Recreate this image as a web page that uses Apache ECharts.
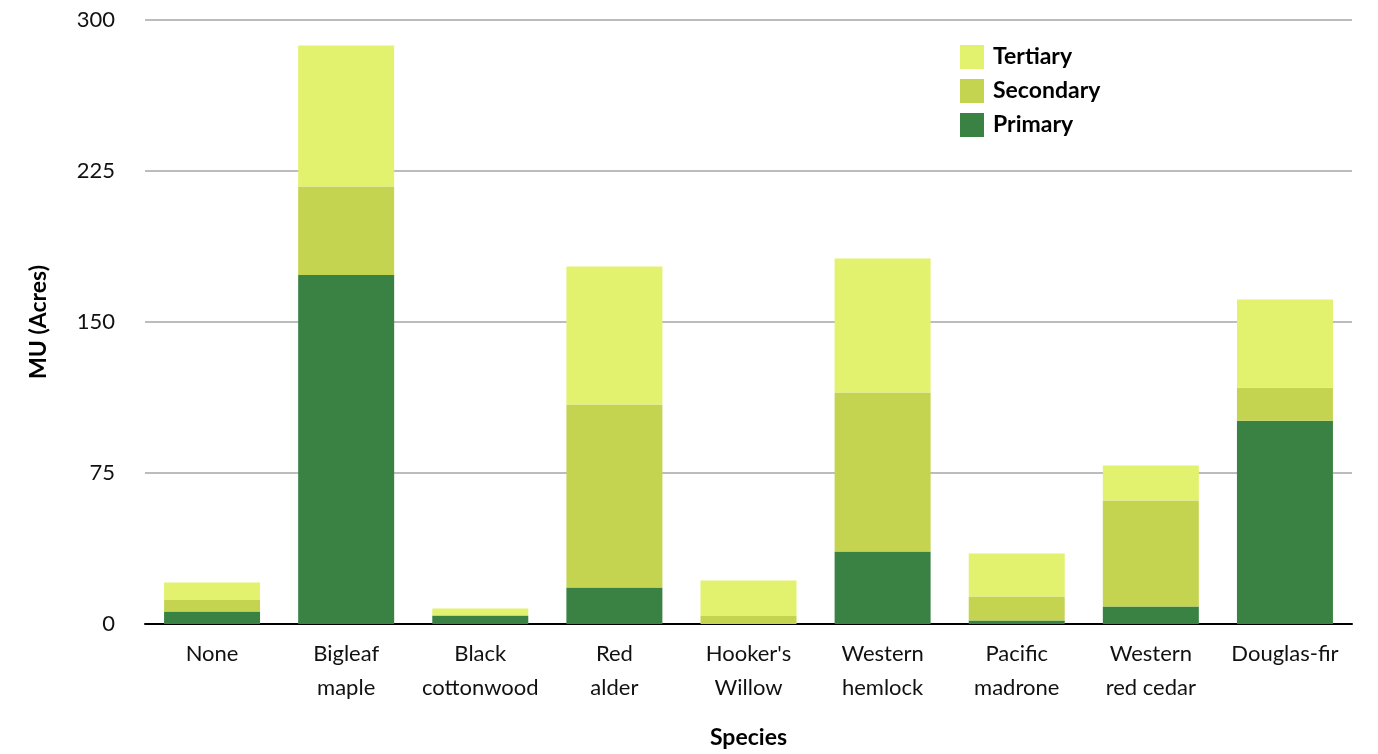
<!DOCTYPE html>
<html>
<head>
<meta charset="utf-8">
<script src="https://cdn.jsdelivr.net/npm/echarts@6/dist/echarts.min.js"></script>
<style>html,body{margin:0;padding:0;background:#fff}#c{width:1378px;height:754px}</style>
</head>
<body>
<div id="c"></div>
<script>
const categories = ['None', 'Bigleaf\nmaple', 'Black\ncottonwood', 'Red\nalder', "Hooker's\nWillow", 'Western\nhemlock', 'Pacific\nmadrone', 'Western\nred cedar', 'Douglas-fir'];
const primary   = [6.2, 173.3, 4.2, 18.1, 0, 36.0, 1.7, 8.7, 100.9];
const secondary = [6.0, 44.0, 0, 90.9, 4.2, 79.0, 12.0, 52.6, 16.4];
const tertiary  = [8.4, 70.0, 3.5, 68.6, 17.4, 66.5, 21.3, 17.4, 43.9];
const yTicks = [0, 75, 150, 225, 300];

const FONT = 'Lato';
const chart = echarts.init(document.getElementById('c'), null, {renderer: 'canvas'});
const mk = (name, data, color) => ({
  name, type: 'bar', stack: 'a', data, barWidth: 96,
  itemStyle: {color}, emphasis: {disabled: true}
});
chart.setOption({
  animation: false,
  textStyle: {fontFamily: FONT},
  grid: {left: 145, right: 26, top: 20, bottom: 130, containLabel: false},
  legend: {
    orient: 'vertical', left: 955, top: 40,
    itemWidth: 24, itemHeight: 24, itemGap: 10,
    icon: 'rect',
    data: ['Tertiary', 'Secondary', 'Primary'],
    textStyle: {fontFamily: FONT, fontSize: 23, fontWeight: 'bold', color: '#000', padding: [0, 0, 0, 4]}
  },
  xAxis: {
    type: 'category', data: categories,
    name: 'Species', nameLocation: 'middle', nameGap: 102,
    nameTextStyle: {fontFamily: FONT, fontSize: 23, fontWeight: 'bold', color: '#000'},
    axisLine: {lineStyle: {color: '#000', width: 2}},
    axisTick: {show: false},
    axisLabel: {fontFamily: FONT, fontSize: 22, color: '#111', margin: 13, lineHeight: 34, interval: 0}
  },
  yAxis: {
    type: 'value', min: yTicks[0], max: yTicks[yTicks.length - 1], interval: 75,
    name: 'MU (Acres)', nameLocation: 'middle', nameGap: 95, nameRotate: 90,
    nameTextStyle: {fontFamily: FONT, fontSize: 23, fontWeight: 'bold', color: '#000'},
    axisLine: {show: false},
    axisTick: {show: false},
    axisLabel: {fontFamily: FONT, fontSize: 22, color: '#111', margin: 30},
    splitLine: {lineStyle: {color: '#bcbcbc', width: 2}}
  },
  series: [
    mk('Primary', primary, '#3a8243'),
    mk('Secondary', secondary, '#c5d450'),
    mk('Tertiary', tertiary, '#e2f26e')
  ]
});
</script>
</body>
</html>
